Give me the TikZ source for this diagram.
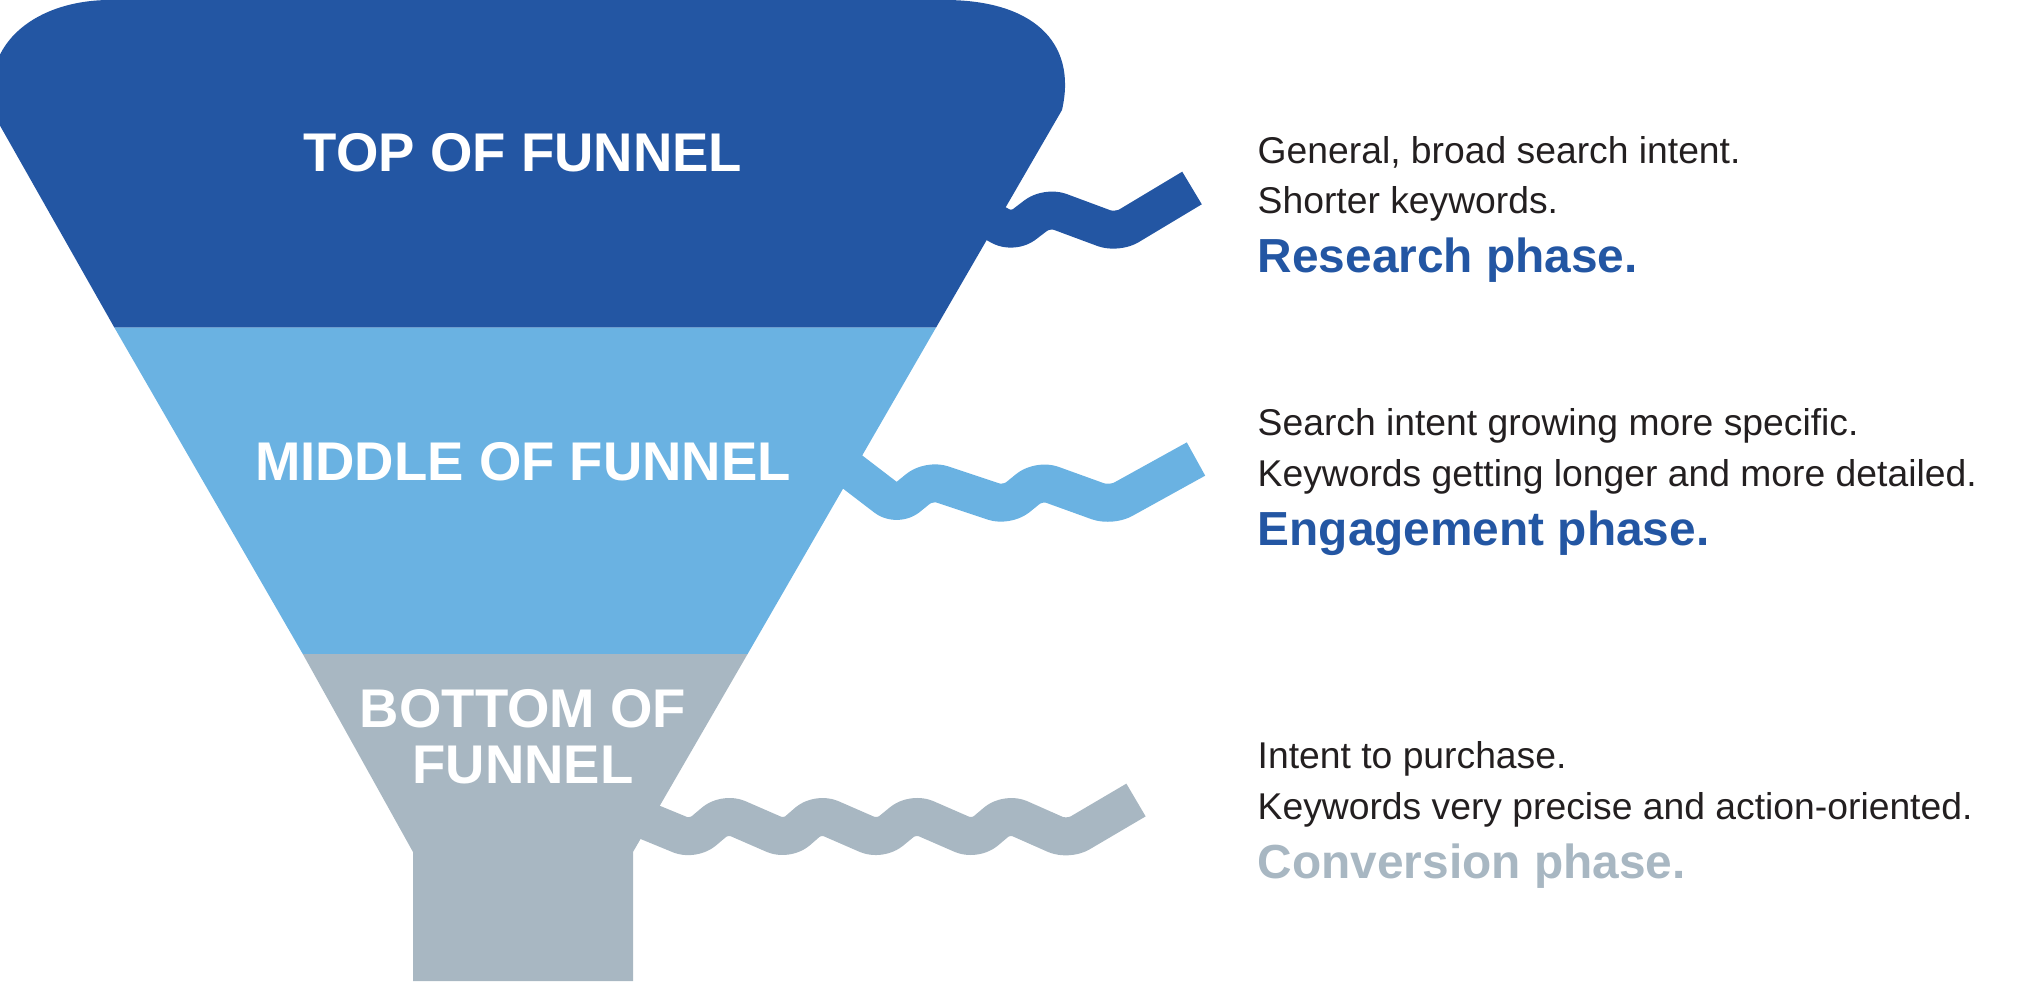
\documentclass[tikz,border=0pt]{standalone}
\usepackage{fontspec}
\setmainfont{Liberation Sans}
\definecolor{dblue}{HTML}{2356A3}
\definecolor{lblue}{HTML}{6AB2E2}
\definecolor{fgray}{HTML}{A8B7C2}
\definecolor{txt}{HTML}{231F20}
\begin{document}
\begin{tikzpicture}[x=0.01cm,y=-0.01cm,
  ribbon/.style={line width=0.38cm,rounded corners=0.14cm,line cap=butt,line join=round},
  stage/.style={text=white,font=\fontsize{15.5}{18}\selectfont\bfseries,align=center},
  desc/.style={anchor=base west,text=txt,font=\fontsize{10.6}{12}\selectfont,inner sep=0},
  phase/.style={anchor=base west,font=\fontsize{13.6}{16}\selectfont\bfseries,inner sep=0}]
\useasboundingbox (0,0) rectangle (2038,981);
% ribbons
\draw[ribbon,dblue] (975,212) -- (1013,233) -- (1047,207) -- (1117,233) -- (1192,188);
\draw[ribbon,lblue] (850,470) -- (897,506) -- (929,480) -- (1007,506) -- (1039,480) -- (1111,506) -- (1196,459);
\draw[ribbon,fgray] (625,812) -- (693,840) -- (725,813) -- (787,840) -- (818,813) -- (880,840) -- (913,813) -- (975,840) -- (1007,813) -- (1068,840) -- (1136,800);
% funnel
\fill[dblue] (-6,115) .. controls (-22,40) and (40,0) .. (110,0) -- (945,0)
  .. controls (1030,0) and (1078,40) .. (1062,110) -- (936,327.6) -- (114.4,327.6) -- cycle;
\fill[lblue] (114.4,327.6) -- (936,327.6) -- (747.6,654) -- (302.8,654) -- cycle;
\fill[fgray] (302.8,654) -- (747.6,654) -- (633,852) -- (633,981) -- (413,981) -- (413,852) -- cycle;
\node[stage] (top) at (523,153) {TOP OF FUNNEL};
\node[stage] (mid) at (523,462) {MIDDLE OF FUNNEL};
\node[stage] (bot) at (523,737) {BOTTOM OF\\[-2pt]FUNNEL};
% descriptions
\node[desc] (t1) at (1257,163) {General, broad search intent.};
\node[desc] (t2) at (1257,213) {Shorter keywords.};
\node[phase,text=dblue] (t3) at (1257,272) {Research phase.};
\node[desc] (m1) at (1257,435) {Search intent growing more specific.};
\node[desc] (m2) at (1257,486) {Keywords getting longer and more detailed.};
\node[phase,text=dblue] (m3) at (1257,545) {Engagement phase.};
\node[desc] (b1) at (1257,768) {Intent to purchase.};
\node[desc] (b2) at (1257,819) {Keywords very precise and action-oriented.};
\node[phase,text=fgray] (b3) at (1257,878) {Conversion phase.};
\end{tikzpicture}
\end{document}
